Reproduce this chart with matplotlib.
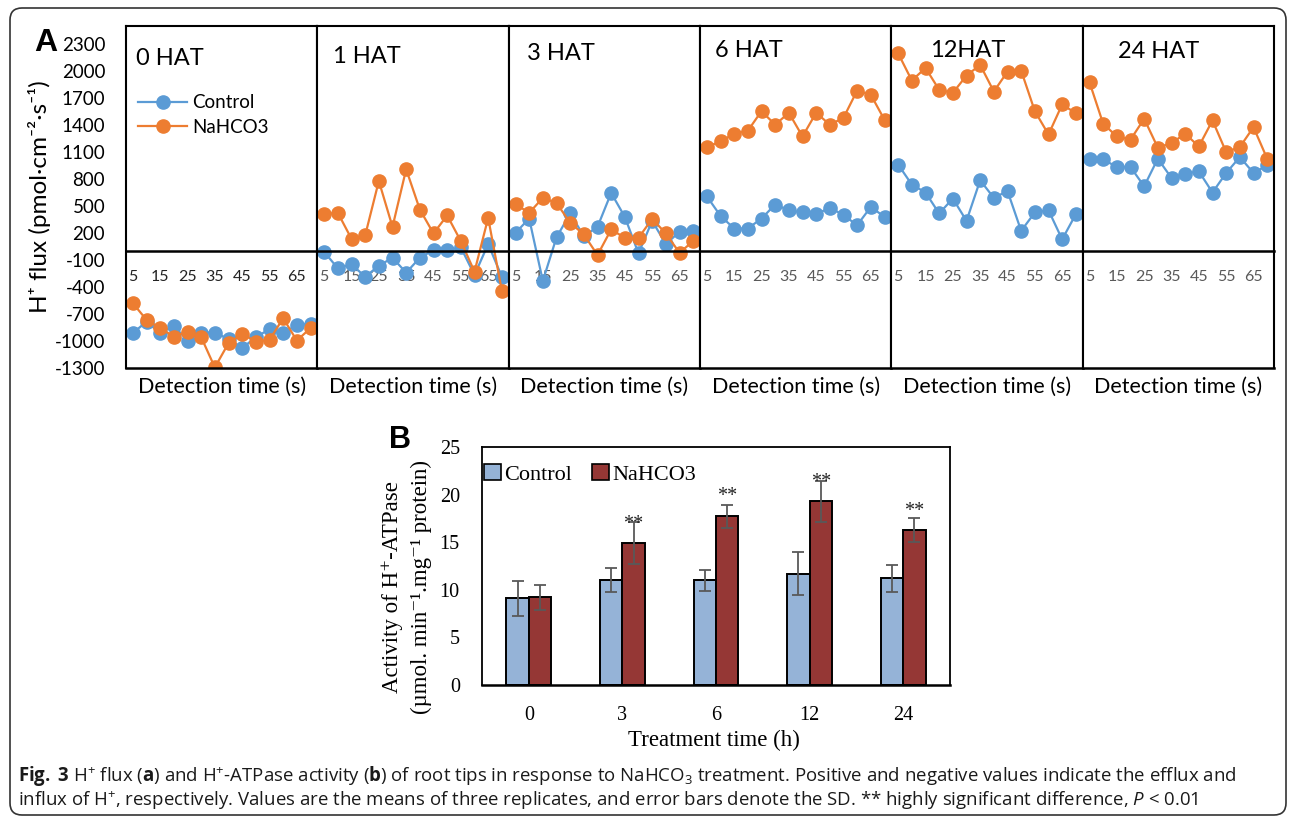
import matplotlib
matplotlib.use('Agg')
import matplotlib.pyplot as plt
from matplotlib.patches import FancyBboxPatch, Patch
import numpy as np

plt.rcParams['font.family'] = ['Lato', 'DejaVu Sans']
plt.rcParams['axes.unicode_minus'] = False
plt.rcParams['mathtext.fontset'] = 'custom'
plt.rcParams['mathtext.rm'] = 'Open Sans'
plt.rcParams['mathtext.bf'] = 'Open Sans:bold'
plt.rcParams['mathtext.it'] = 'Open Sans:italic'

# ---- panel A: H+ flux, 14 readings per treatment time
times = [5, 10, 15, 20, 25, 30, 35, 40, 45, 50, 55, 60, 65, 70]
hat_titles = ['0 HAT', '1 HAT', '3 HAT', '6 HAT', '12HAT', '24 HAT']

ctrl_0h = [-913, -784, -913, -832, -995, -906, -906, -979, -1079, -957, -869, -913, -821, -810]
naco_0h = [-580, -765, -857, -950, -895, -957, -1294, -1024, -921, -1006, -987, -747, -995, -857]
ctrl_1h = [-9, -193, -148, -286, -164, -75, -241, -75, 10, 10, 40, -267, 77, -286]
naco_1h = [409, 424, 135, 173, 778, 268, 908, 461, 195, 395, 110, -230, 368, -441]
ctrl_3h = [202, 361, -333, 151, 417, 165, 268, 645, 379, -27, 335, 77, 213, 221]
naco_3h = [520, 424, 590, 534, 313, 184, -45, 239, 146, 146, 357, 195, -20, 110]
ctrl_6h = [608, 390, 250, 250, 361, 516, 453, 428, 406, 483, 398, 287, 490, 379]
naco_6h = [1155, 1218, 1303, 1336, 1554, 1403, 1536, 1273, 1536, 1403, 1480, 1783, 1735, 1458]
ctrl_12h = [960, 738, 650, 417, 583, 335, 786, 590, 667, 224, 428, 453, 129, 409]
naco_12h = [2196, 1894, 2034, 1791, 1757, 1949, 2068, 1772, 1993, 2004, 1554, 1295, 1628, 1531]
ctrl_24h = [1026, 1018, 933, 933, 719, 1026, 811, 860, 885, 650, 867, 1044, 867, 952]
naco_24h = [1875, 1414, 1273, 1237, 1469, 1148, 1199, 1303, 1162, 1451, 1099, 1155, 1376, 1026]

ctrl_flux = [ctrl_0h, ctrl_1h, ctrl_3h, ctrl_6h, ctrl_12h, ctrl_24h]
naco_flux = [naco_0h, naco_1h, naco_3h, naco_6h, naco_12h, naco_24h]

# ---- panel B: H+-ATPase activity
treat_h = ['0', '3', '6', '12', '24']
ctrl_act = [9.1, 11.0, 11.0, 11.7, 11.2]
ctrl_sd = [1.8, 1.25, 1.12, 2.25, 1.42]
naco_act = [9.2, 14.9, 17.7, 19.3, 16.3]
naco_sd = [1.35, 2.23, 1.18, 2.13, 1.28]
star_y = [None, 16.4, 19.3, 20.8, 17.8]

W, H = 1290, 824
fig = plt.figure(figsize=(W / 100, H / 100), dpi=100)


def box(x0, y0, x1, y1):
    return [x0 / W, 1 - y1 / H, (x1 - x0) / W, (y1 - y0) / H]


blue, orange = '#5B9BD5', '#ED7D31'
title_x = [0.052, 0.081, 0.094, 0.076, 0.204, 0.186]
title_y = [0.905, 0.911, 0.92, 0.929, 0.929, 0.926]
x = np.arange(len(times))
pw = (1274 - 126) / 6

for i in range(6):
    ax = fig.add_axes(box(126 + i * pw, 26, 126 + (i + 1) * pw, 368))
    ax.plot(x, ctrl_flux[i], '-o', color=blue, lw=1.6, ms=9.5, label='Control')
    ax.plot(x, naco_flux[i], '-o', color=orange, lw=1.6, ms=9.5, label='NaHCO3')
    ax.set_xlim(-0.5, 13.5)
    ax.set_ylim(-1300, 2500)
    for s in ['left', 'right', 'top']:
        ax.spines[s].set_linewidth(1.5)
    ax.spines['bottom'].set_position(('data', 0))
    ax.spines['bottom'].set_linewidth(1.8)
    ax.plot([0, 1], [0, 0], transform=ax.transAxes, color='black', lw=1.8, clip_on=False)
    ax.set_xticks(x[::2])
    ax.set_xticklabels([str(t) for t in times[::2]])
    ax.tick_params(axis='x', length=0, pad=14, labelsize=11.5,
                   labelcolor='#222222' if i == 0 else '#595959')
    if i == 0:
        ax.set_yticks(range(-1300, 2301, 300))
        ax.tick_params(axis='y', length=0, pad=15, labelsize=13.5)
        ax.legend(loc='upper left', bbox_to_anchor=(0.065, 0.80), frameon=False,
                  fontsize=13.5, handlelength=2.6, borderpad=0, borderaxespad=0,
                  labelspacing=0.4, handletextpad=0.25)
    else:
        ax.set_yticks([])
    ax.text(title_x[i], title_y[i], hat_titles[i], transform=ax.transAxes,
            fontsize=17, va='center', ha='left')
    ax.text(0.5, -0.056, 'Detection time (s)', transform=ax.transAxes,
            fontsize=15.5, ha='center', va='center')

fig.text(40 / W, 1 - 197 / H, 'H⁺ flux (pmol·cm⁻²·s⁻¹)', rotation=90,
         ha='center', va='center', fontsize=17.5)
fig.text(46 / W, 1 - 43 / H, 'A', fontsize=23, fontweight='bold',
         family=['Liberation Sans', 'DejaVu Sans'], ha='center', va='center')

# ---- bar chart
serif = ['Liberation Serif', 'DejaVu Serif']
bx = fig.add_axes(box(482, 447, 950, 685))
xb = np.arange(len(treat_h))
bw = 0.24
bx.bar(xb - bw / 2, ctrl_act, bw, color='#95B3D7', edgecolor='black', lw=1.4, label='Control', zorder=2)
bx.bar(xb + bw / 2, naco_act, bw, color='#953735', edgecolor='black', lw=1.4, label='NaHCO3', zorder=2)
bx.errorbar(xb - bw / 2, ctrl_act, yerr=ctrl_sd, fmt='none', ecolor='#595959',
            elinewidth=1.3, capsize=4.5, capthick=1.3, zorder=3)
bx.errorbar(xb + bw / 2, naco_act, yerr=naco_sd, fmt='none', ecolor='#595959',
            elinewidth=1.3, capsize=4.5, capthick=1.3, zorder=3)
for xi, sy in zip(xb, star_y):
    if sy is not None:
        bx.text(xi + bw / 2, sy, '**', ha='center', va='baseline', fontsize=14.5,
                family=serif, color='#222222')
bx.set_xlim(-0.5, 4.5)
bx.set_ylim(0, 25)
bx.set_yticks(range(0, 26, 5))
bx.set_xticks(xb)
bx.set_xticklabels(treat_h)
for s in bx.spines.values():
    s.set_linewidth(1.3)
bx.spines['bottom'].set_linewidth(1.8)
bx.tick_params(length=0, labelsize=14.5)
bx.tick_params(axis='y', pad=16)
bx.tick_params(axis='x', pad=15)
for lab in bx.get_xticklabels() + bx.get_yticklabels():
    lab.set_family(serif)
handles = [Patch(facecolor='#95B3D7', edgecolor='black', lw=1.2),
           Patch(facecolor='#953735', edgecolor='black', lw=1.2)]
bx.legend(handles, ['Control', 'NaHCO3'], loc='upper left', bbox_to_anchor=(0.005, 0.93),
          ncol=2, frameon=False, prop={'family': serif, 'size': 16}, handlelength=0.75,
          handleheight=0.75, handletextpad=0.15, columnspacing=0.9, borderpad=0, borderaxespad=0)
fig.text(714 / W, 1 - 740 / H, 'Treatment time (h)', ha='center', va='center',
         fontsize=16.5, family=serif)
fig.text(392 / W, 1 - 587 / H, 'Activity of H⁺-ATPase', rotation=90, ha='center',
         va='center', fontsize=16.5, family=serif)
fig.text(421 / W, 1 - 587 / H, '(µmol. min⁻¹.mg⁻¹ protein)', rotation=90, ha='center',
         va='center', fontsize=16.5, family=serif)
fig.text(400 / W, 1 - 440 / H, 'B', fontsize=22, fontweight='bold',
         family=['Liberation Sans', 'DejaVu Sans'], ha='center', va='center')

# ---- caption and frame
line1 = (r'$\mathbf{Fig.}$ $\mathbf{3}$ H$^{+}$ flux ($\mathbf{a}$) and H$^{+}$-ATPase activity ($\mathbf{b}$) '
         r'of root tips in response to NaHCO$_{3}$ treatment. Positive and negative values indicate the efflux and')
line2 = (r'influx of H$^{+}$, respectively. Values are the means of three replicates, and error bars '
         r'denote the SD. ** highly significant difference, $\mathit{P}$ < 0.01')
fig.text(18 / W, 1 - 776 / H, line1, fontsize=13.4, family='Open Sans', va='center', color='#1a1a1a')
fig.text(18 / W, 1 - 801 / H, line2, fontsize=13.4, family='Open Sans', va='center', color='#1a1a1a')

frame = FancyBboxPatch((0.10, 0.09), 12.76, 8.07, boxstyle='round,pad=0,rounding_size=0.12',
                       transform=fig.dpi_scale_trans, fill=False, ec='#333333', lw=1.2)
fig.patches.append(frame)

fig.savefig('out.png', dpi=100)
